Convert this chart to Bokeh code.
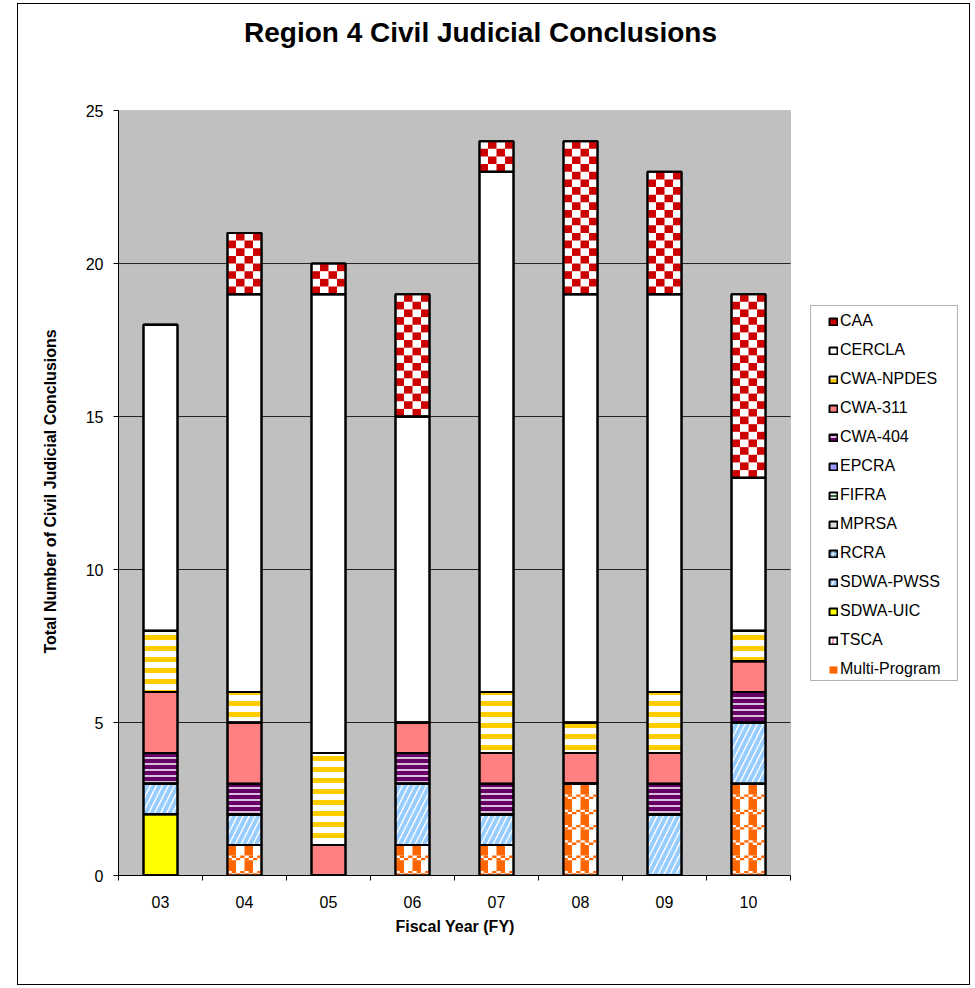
from bokeh.plotting import figure
from bokeh.models import (Legend, LegendItem, FixedTicker, Range1d, ColumnDataSource, Label,
                          BoxAnnotation, Title)
from bokeh.embed import file_html
from bokeh.resources import INLINE

# ---------------- data ----------------
years = ["03", "04", "05", "06", "07", "08", "09", "10"]
# stacking order, bottom to top
series = ["Multi-Program", "TSCA", "SDWA-UIC", "SDWA-PWSS", "RCRA", "MPRSA", "FIFRA",
          "EPCRA", "CWA-404", "CWA-311", "CWA-NPDES", "CERCLA", "CAA"]
multi_program = [0, 1, 0, 1, 1, 3, 0, 3]
tsca          = [0, 0, 0, 0, 0, 0, 0, 0]
sdwa_uic      = [2, 0, 0, 0, 0, 0, 0, 0]
sdwa_pwss     = [1, 1, 0, 2, 1, 0, 2, 2]
rcra          = [0, 0, 0, 0, 0, 0, 0, 0]
mprsa         = [0, 0, 0, 0, 0, 0, 0, 0]
fifra         = [0, 0, 0, 0, 0, 0, 0, 0]
epcra         = [0, 0, 0, 0, 0, 0, 0, 0]
cwa_404       = [1, 1, 0, 1, 1, 0, 1, 1]
cwa_311       = [2, 2, 1, 1, 1, 1, 1, 1]
cwa_npdes     = [2, 1, 3, 0, 2, 1, 2, 1]
cercla        = [10, 13, 15, 10, 17, 14, 13, 5]
caa           = [0, 2, 1, 4, 1, 5, 4, 6]
y_ticks = [0, 5, 10, 15, 20, 25]
y_max = 25

values = [multi_program, tsca, sdwa_uic, sdwa_pwss, rcra, mprsa, fifra,
          epcra, cwa_404, cwa_311, cwa_npdes, cercla, caa]

FONT = "Liberation Sans"
BAR_W = 0.405
N = len(years)

x_pos = [i + 0.5 for i in range(N)]
data = {"x": x_pos}
for name, vals in zip(series, values):
    data[name] = vals
source = ColumnDataSource(data)

styles = {
    "Multi-Program": dict(fill_color="white"),
    "TSCA":          dict(fill_color="white", hatch_pattern="vertical_line", hatch_color="#FF99CC", hatch_scale=8, hatch_weight=2),
    "SDWA-UIC":      dict(fill_color="#FFFF00"),
    "SDWA-PWSS":     dict(fill_color="white", hatch_pattern="right_diagonal_line", hatch_color="#99CCFF", hatch_scale=12, hatch_weight=4),
    "RCRA":          dict(fill_color="#6699CC", hatch_pattern="cross", hatch_color="white", hatch_scale=8, hatch_weight=1),
    "MPRSA":         dict(fill_color="#DDDDDD"),
    "FIFRA":         dict(fill_color="white", hatch_pattern="horizontal_line", hatch_color="#336633", hatch_scale=8, hatch_weight=2),
    "EPCRA":         dict(fill_color="#9999FF"),
    "CWA-404":       dict(fill_color="#660066", hatch_pattern="horizontal_line", hatch_color="white", hatch_scale=6, hatch_weight=1.5),
    "CWA-311":       dict(fill_color="#FF8080"),
    "CWA-NPDES":     dict(fill_color="white", hatch_pattern="horizontal_line", hatch_color="#FFCC00", hatch_scale=11, hatch_weight=5),
    "CERCLA":        dict(fill_color="white"),
    "CAA":           dict(fill_color="white"),
}

# ---------------- figure ----------------
# The frame is extended to the right and upward so that the legend and the title
# (drawn inside the frame) are not clipped; axes are bounded to the data area.
p = figure(width=953, height=982, output_backend="svg", toolbar_location=None,
           x_range=Range1d(0, 10.083), y_range=Range1d(0, 28.27),
           min_border_left=100, min_border_right=6, min_border_top=6, min_border_bottom=111,
           background_fill_color="white", border_fill_color="white",
           styles={"border": "1px solid black", "margin-left": "17px", "margin-top": "3px"})
p.outline_line_color = None
p.xgrid.visible = False
p.ygrid.visible = False

# plot area background
p.add_layout(BoxAnnotation(left=0, right=N, bottom=0, top=y_max, fill_color="#C0C0C0",
                           fill_alpha=1.0, line_color="#808080", line_width=1, level="underlay"))
# grid lines
p.segment(x0=[0] * (len(y_ticks) - 2), x1=[N] * (len(y_ticks) - 2),
          y0=y_ticks[1:-1], y1=y_ticks[1:-1], line_color="#222222", line_width=1)

# pass 1: fills + built-in hatches
renderers = p.vbar_stack(series, x="x", width=BAR_W, source=source,
                         line_color="black", line_width=2, fill_color="white")
for name, r in zip(series, renderers):
    for k, v in styles[name].items():
        setattr(r.glyph, k, v)

# pass 2: checker (CAA) and plaid (Multi-Program) patterns, derived from the data
def seg_bounds(idx, i):
    b = sum(values[k][i] for k in range(idx))
    return b, b + values[idx][i]

ql, qr, qb, qt, qc = [], [], [], [], []
caa_i = series.index("CAA")
for i, xc in enumerate(x_pos):
    b, t = seg_bounds(caa_i, i)
    nrows = int(round((t - b) * 4))
    cw = BAR_W / 4
    rh = 0.25
    for r in range(nrows):
        for c in range(4):
            if (r + c) % 2 == 0:
                ql.append(xc - BAR_W / 2 + c * cw)
                qr.append(xc - BAR_W / 2 + (c + 1) * cw)
                qb.append(b + r * rh)
                qt.append(b + (r + 1) * rh)
                qc.append("#CC0000")

mp_i = series.index("Multi-Program")
for i, xc in enumerate(x_pos):
    b, t = seg_bounds(mp_i, i)
    nper = int(round((t - b) * 2))
    for k in range(nper):
        y0 = b + k * 0.5
        sw = BAR_W / 8
        for rr in range(2):
            for c in range(8):
                if (rr + c) % 2 == 0:
                    ql.append(xc - BAR_W / 2 + c * sw)
                    qr.append(xc - BAR_W / 2 + (c + 1) * sw)
                    qb.append(y0 + rr * 0.075)
                    qt.append(y0 + (rr + 1) * 0.075)
                    qc.append("#FF6600")
        bw = BAR_W / 4
        for c in (0, 2):
            ql.append(xc - BAR_W / 2 + c * bw)
            qr.append(xc - BAR_W / 2 + (c + 1) * bw)
            qb.append(y0 + 0.15)
            qt.append(y0 + 0.5)
            qc.append("#FF6600")

quad_r = p.quad(left=ql, right=qr, bottom=qb, top=qt, fill_color=qc, line_color=None)

# pass 3: outlines on top
outlines = p.vbar_stack(series, x="x", width=BAR_W, source=source,
                        line_color="black", line_width=2, fill_alpha=0)

# y axis
p.yaxis.bounds = (0, y_max)
p.yaxis.ticker = FixedTicker(ticks=y_ticks)
p.yaxis.major_label_text_font = FONT
p.yaxis.major_label_text_font_size = "16px"
p.yaxis.major_label_text_color = "black"
p.yaxis.major_label_standoff = 10
p.yaxis.major_tick_out = 5
p.yaxis.major_tick_in = 0
p.yaxis.minor_tick_line_color = None
p.yaxis.axis_line_color = "black"
p.yaxis.major_tick_line_color = "black"

# x axis: labels at centres, tick marks at category boundaries
p.xaxis.bounds = (0, N)
p.xaxis.ticker = FixedTicker(ticks=x_pos, minor_ticks=list(range(N + 1)))
p.xaxis.major_label_overrides = {x: y for x, y in zip(x_pos, years)}
p.xaxis.major_tick_out = 0
p.xaxis.major_tick_in = 0
p.xaxis.minor_tick_out = 5
p.xaxis.minor_tick_in = 0
p.xaxis.minor_tick_line_color = "black"
p.xaxis.axis_line_color = "black"
p.xaxis.major_label_text_font = FONT
p.xaxis.major_label_text_font_size = "16px"
p.xaxis.major_label_text_color = "black"
p.xaxis.major_label_standoff = 15

# axis titles as side-panel titles (so they can be centred on the data area)
p.add_layout(Title(text="Total Number of Civil Judicial Conclusions", align="left", offset=222,
                   vertical_align="top",
                   text_font=FONT, text_font_size="16px", text_font_style="bold",
                   text_color="black", standoff=44), "left")
p.add_layout(Title(text="Fiscal Year (FY)", align="left", offset=277,
                   text_font=FONT, text_font_size="16px", text_font_style="bold",
                   text_color="black", standoff=10), "below")

# chart title (screen units, relative to the frame's bottom-left)
p.add_layout(Label(x=362, y=843, x_units="screen", y_units="screen",
                   text="Region 4 Civil Judicial Conclusions", text_align="center",
                   text_baseline="middle", text_font=FONT, text_font_size="28px",
                   text_font_style="bold", text_color="black"))

# legend box (screen units relative to the frame)
p.add_layout(BoxAnnotation(left=692, right=839, bottom=195, top=570,
                           left_units="screen", right_units="screen",
                           bottom_units="screen", top_units="screen",
                           fill_color="white", fill_alpha=1.0,
                           line_color="black", line_width=1))

# legend (listed top to bottom, reverse of stacking)
caa_q = qc.index("#CC0000")
mp_q = qc.index("#FF6600")
items = []
for name, r, o in reversed(list(zip(series, renderers, outlines))):
    if name == "CAA":
        items.append(LegendItem(label=name, renderers=[quad_r, o], index=caa_q))
    elif name == "Multi-Program":
        items.append(LegendItem(label=name, renderers=[quad_r, o], index=mp_q))
    else:
        items.append(LegendItem(label=name, renderers=[r]))
legend = Legend(items=items, location=(692, 178), orientation="vertical",
                label_text_font=FONT, label_text_font_size="16px", label_text_color="black",
                glyph_width=10, glyph_height=9, label_standoff=2,
                padding=18, spacing=9, label_height=20,
                border_line_alpha=0, background_fill_alpha=0, margin=0)
p.add_layout(legend, "center")

open("out.html", "w").write(file_html(p, INLINE))
